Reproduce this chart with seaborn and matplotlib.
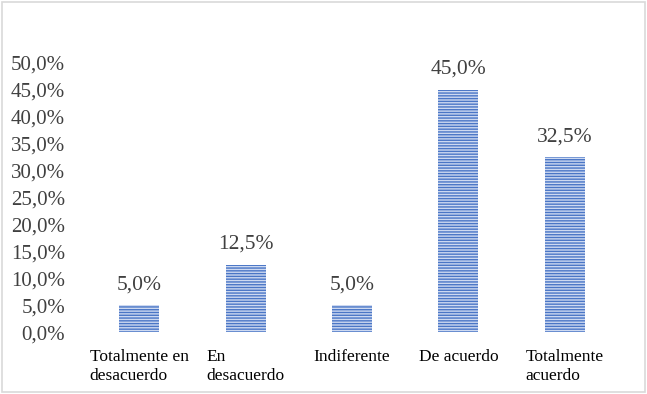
import matplotlib
matplotlib.use("Agg")
import matplotlib.pyplot as plt
import matplotlib.patches as patches
from matplotlib.ticker import FuncFormatter
import seaborn as sns
import pandas as pd

# Datos del gráfico
categorias = ["Totalmente en\ndesacuerdo", "En\ndesacuerdo", "Indiferente",
              "De acuerdo", "Totalmente\nacuerdo"]
porcentajes = [0.05, 0.125, 0.05, 0.45, 0.325]
etiquetas = ["5,0%", "12,5%", "5,0%", "45,0%", "32,5%"]

sns.set_theme(style="white")
plt.rcParams["font.family"] = ["Liberation Serif", "DejaVu Serif"]
plt.rcParams["hatch.linewidth"] = 1.0

df = pd.DataFrame({"categoria": categorias, "valor": porcentajes})

fig = plt.figure(figsize=(6.47, 3.94), dpi=100)
ax = fig.add_axes([0.133, 0.157, 0.822, 0.683])

sns.barplot(data=df, x="categoria", y="valor", ax=ax, width=0.375,
            color="#cdd9f1", edgecolor="#4a76c6", linewidth=0, hatch="------",
            saturation=1)

ax.set_ylim(0, 0.5)
ax.set_yticks([i * 0.05 for i in range(11)])
ax.yaxis.set_major_formatter(FuncFormatter(lambda v, p: f"{v * 100:.1f}%".replace(".", ",")))
ax.tick_params(axis="y", labelsize=15, colors="#404040", pad=15, length=0)
ax.tick_params(axis="x", labelsize=12.5, colors="#000000", pad=12, length=0)
for lbl in ax.get_xticklabels():
    lbl.set_multialignment("left")
    lbl.set_verticalalignment("top")
    lbl.set_linespacing(1.25)

ax.set_xlabel("")
ax.set_ylabel("")
for s in ax.spines.values():
    s.set_visible(False)

# Etiquetas de valores
for i, (v, t) in enumerate(zip(porcentajes, etiquetas)):
    ax.annotate(t, (i, v), xytext=(0, 8), textcoords="offset points",
                ha="center", va="bottom", fontsize=15.5, color="#404040")

# Borde del gráfico
fig.patches.append(patches.Rectangle((0.003, 0.005), 0.994, 0.99, transform=fig.transFigure,
                                     fill=False, edgecolor="#d9d9d9", linewidth=1.2))

fig.savefig("out.png", dpi=100)
